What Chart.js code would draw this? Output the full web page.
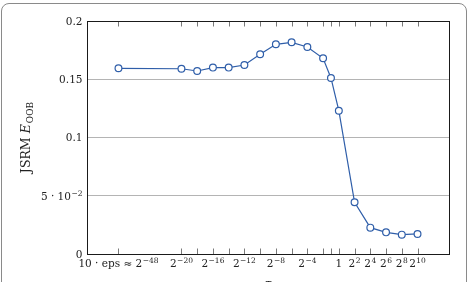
<!DOCTYPE html>
<html>
<head>
<meta charset="utf-8">
<script src="https://cdn.jsdelivr.net/npm/chart.js@4.4.1/dist/chart.umd.min.js"></script>
<style>
  html, body { margin: 0; padding: 0; background: #fff; overflow: hidden; }
  #frame {
    position: absolute; left: 1px; top: 3px; width: 464px; height: 300px;
    border: 1.5px solid #8a8a8a; border-radius: 8px;
  }
  #chart { position: absolute; left: 0; top: 0; }
</style>
</head>
<body>
<div id="frame"></div>
<canvas id="chart" width="470" height="300"></canvas>
<script>
// tau on a log2 axis (10*eps placed on a broken axis at -28)
const tauExp = [-28, -20, -18, -16, -14, -12, -10, -8, -6, -4, -2, -1, 0, 2, 4, 6, 8, 10];
const jsrmOOB = [0.1594, 0.159, 0.1571, 0.160, 0.160, 0.1622, 0.1714, 0.180, 0.1817, 0.1777,
                 0.168, 0.1511, 0.1230, 0.0444, 0.0226, 0.0186, 0.0166, 0.0172];

const xLabelPos = [-28, -20, -16, -12, -8, -4, 0, 2, 4, 6, 8, 10];
const xLabels = ['10 · eps ≈ 2^−48', '2^−20', '2^−16', '2^−12', '2^−8', '2^−4', '1', '2^2', '2^4', '2^6', '2^8', '2^10'];
const yTicks = [0, 0.05, 0.1, 0.15, 0.2];
const yLabels = ['0', '5 · 10^−2', '0.1', '0.15', '0.2'];

const FONT = '"DejaVu Serif", serif';
const BASE = 10.5, SUP = 7.5;

function measureRich(ctx, txt) {
  const [main, sup] = txt.split('^');
  ctx.font = BASE + 'px ' + FONT;
  let w = ctx.measureText(main).width;
  if (sup) { ctx.font = SUP + 'px ' + FONT; w += ctx.measureText(sup).width + 0.5; }
  return w;
}
function drawRich(ctx, txt, x, y) {
  // x = left edge, y = baseline
  const [main, sup] = txt.split('^');
  ctx.font = BASE + 'px ' + FONT;
  ctx.fillText(main, x, y);
  if (sup) {
    const w = ctx.measureText(main).width + 0.5;
    ctx.font = SUP + 'px ' + FONT;
    ctx.fillText(sup, x + w, y - 4);
  }
}

const decor = {
  id: 'decor',
  afterDraw(chart) {
    const { ctx, chartArea: a, scales: { x, y } } = chart;
    ctx.save();
    ctx.fillStyle = '#222';
    ctx.textAlign = 'left';
    ctx.textBaseline = 'alphabetic';

    // tick marks (inward, top and bottom)
    ctx.strokeStyle = '#7a7a7a';
    ctx.lineWidth = 1;
    tauExp.forEach(v => {
      const px = Math.round(x.getPixelForValue(v)) + 0.5;
      ctx.beginPath();
      ctx.moveTo(px, a.bottom); ctx.lineTo(px, a.bottom - 5.5);
      ctx.moveTo(px, a.top); ctx.lineTo(px, a.top + 5.5);
      ctx.stroke();
    });

    // frame
    ctx.strokeStyle = '#1a1a1a';
    ctx.lineWidth = 1;
    ctx.strokeRect(Math.round(a.left) + 0.5, Math.round(a.top) + 0.5,
      Math.round(a.right - a.left), Math.round(a.bottom - a.top));

    // x labels
    xLabelPos.forEach((v, i) => {
      const w = measureRich(ctx, xLabels[i]);
      drawRich(ctx, xLabels[i], x.getPixelForValue(v) - w / 2, a.bottom + 13);
    });

    // y labels
    yTicks.forEach((v, i) => {
      const w = measureRich(ctx, yLabels[i]);
      drawRich(ctx, yLabels[i], a.left - 4.5 - w, y.getPixelForValue(v) + 3.8);
    });

    // y title: JSRM E_OOB
    const TB = 12.5, TS = 9;
    ctx.translate(30, (a.top + a.bottom) / 2);
    ctx.rotate(-Math.PI / 2);
    ctx.font = TB + 'px ' + FONT;
    const w1 = ctx.measureText('JSRM ').width;
    ctx.font = 'italic ' + TB + 'px ' + FONT;
    const w2 = ctx.measureText('E').width;
    ctx.font = TS + 'px ' + FONT;
    const w3 = ctx.measureText('OOB').width;
    let sx = -(w1 + w2 + w3 + 1) / 2;
    ctx.font = TB + 'px ' + FONT;
    ctx.fillText('JSRM ', sx, 0);
    ctx.font = 'italic ' + TB + 'px ' + FONT;
    ctx.fillText('E', sx + w1, 0);
    ctx.font = TS + 'px ' + FONT;
    ctx.fillText('OOB', sx + w1 + w2 + 1, 2.5);
    ctx.restore();

    // x title (mostly cut off by the window)
    ctx.save();
    ctx.fillStyle = '#222';
    ctx.font = 'italic 12px ' + FONT;
    ctx.textAlign = 'center';
    ctx.fillText('τ', (a.left + a.right) / 2, 288);
    ctx.restore();
  }
};

new Chart(document.getElementById('chart'), {
  type: 'line',
  data: {
    datasets: [{
      data: tauExp.map((t, i) => ({ x: t, y: jsrmOOB[i] })),
      borderColor: '#2f5ea9',
      borderWidth: 1.2,
      pointRadius: 3.4,
      pointBorderWidth: 1.2,
      pointBackgroundColor: '#ffffff',
      pointBorderColor: '#2f5ea9',
      tension: 0
    }]
  },
  options: {
    responsive: false,
    animation: false,
    layout: { padding: { left: 87, right: 21, top: 21, bottom: 46 } },
    plugins: { legend: { display: false }, tooltip: { enabled: false } },
    scales: {
      x: { type: 'linear', min: -32, max: 14, display: false },
      y: {
        min: 0, max: 0.2,
        ticks: { display: false, stepSize: 0.05 },
        grid: { color: '#b4b4b4', lineWidth: 1, drawTicks: false },
        border: { display: false },
        afterFit(s) { s.width = 0; }
      }
    }
  },
  plugins: [decor]
});
</script>
</body>
</html>
